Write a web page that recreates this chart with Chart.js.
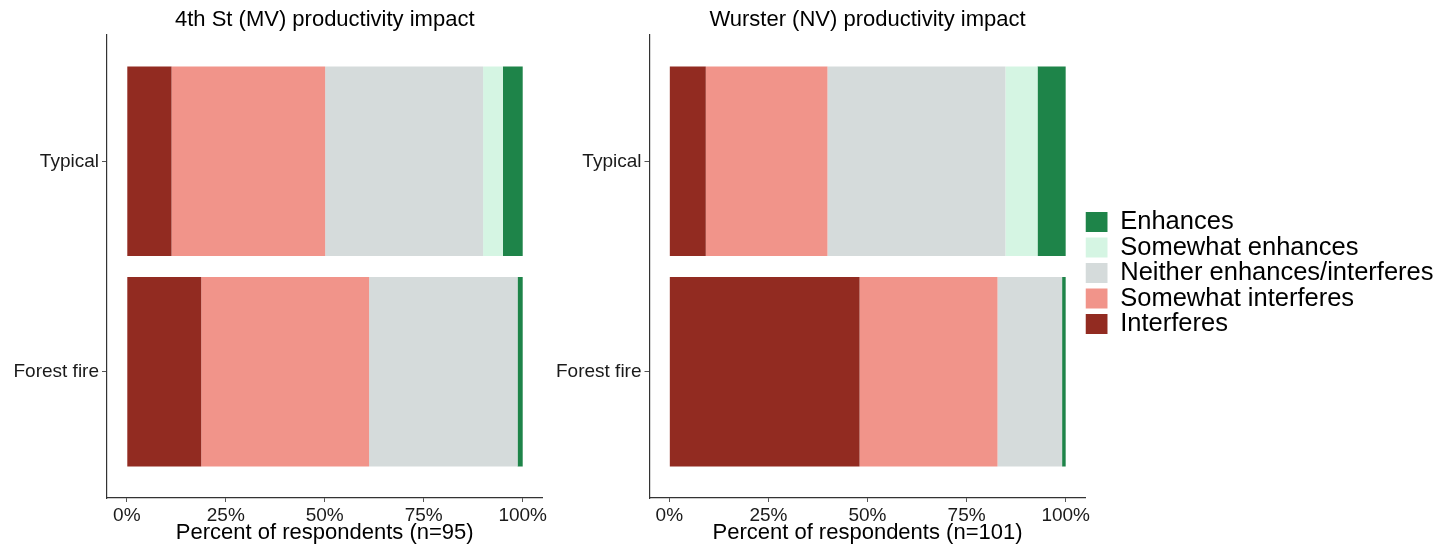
<!DOCTYPE html>
<html>
<head>
  <title>Productivity impact</title>
  <script src="https://cdn.jsdelivr.net/npm/chart.js"></script>
  <style>
    body {
      margin: 0;
      background: #ffffff;
      font-family: "Liberation Sans", Arial, sans-serif;
    }

    .panel {
      position: absolute;
      top: 0;
      height: 546px;
    }

    #left-panel {
      left: 0;
      width: 560px;
    }

    #right-panel {
      left: 540px;
      width: 909px;
    }
  </style>
</head>
<body>
  <div class="panel" id="left-panel"><canvas id="chart-mv"></canvas></div>
  <div class="panel" id="right-panel"><canvas id="chart-nv"></canvas></div>

  <script>
    // categories (top to bottom) and response levels (left to right)
    var categories = ['Typical', 'Forest fire'];
    var levels = ['Interferes', 'Somewhat interferes', 'Neither enhances/interferes', 'Somewhat enhances', 'Enhances'];
    var colors = ['#922B21', '#F1948A', '#D5DBDB', '#D5F5E3', '#1E8449'];
    var xTicks = [0, 25, 50, 75, 100];

    // 4th St (MV), percent of respondents, n=95
    var mvInterferes = [11.3, 18.8];
    var mvSomewhatInterferes = [38.8, 42.4];
    var mvNeither = [39.9, 37.5];
    var mvSomewhatEnhances = [5.0, 0];
    var mvEnhances = [5.0, 1.3];

    // Wurster (NV), percent of respondents, n=101
    var nvInterferes = [9.2, 48.0];
    var nvSomewhatInterferes = [30.7, 34.8];
    var nvNeither = [44.9, 16.3];
    var nvSomewhatEnhances = [8.1, 0];
    var nvEnhances = [7.1, 0.9];

    var fontFamily = '"Liberation Sans", Arial, sans-serif';
    Chart.defaults.font.family = fontFamily;

    function makeDatasets(series) {
      return series.map(function (values, i) {
        return {
          label: levels[i],
          backgroundColor: colors[i],
          borderWidth: 0,
          barPercentage: 1.0,
          categoryPercentage: 0.9,
          data: values.map(function (v, j) { return { x: v, y: j }; })
        };
      });
    }

    function makeChart(canvasId, title, axisTitle, series, showLegend, yWidth, padRight) {
      var ctx = document.getElementById(canvasId).getContext('2d');
      return new Chart(ctx, {
        type: 'bar',
        data: { datasets: makeDatasets(series) },
        options: {
          indexAxis: 'y',
          responsive: true,
          maintainAspectRatio: false,
          animation: false,
          layout: { padding: { left: 0, right: padRight, top: 0, bottom: 0 } },
          plugins: {
            tooltip: { enabled: false },
            title: {
              display: true,
              text: title,
              fullSize: false,
              color: '#000000',
              font: { size: 22, weight: 'normal' },
              padding: { top: 7, bottom: 1.6 }
            },
            legend: {
              display: showLegend,
              position: 'right',
              reverse: true,
              maxWidth: 420,
              labels: {
                boxWidth: 22,
                boxHeight: 20,
                padding: 0,
                color: '#000000',
                font: { size: 25.5 }
              }
            }
          },
          scales: {
            x: {
              type: 'linear',
              stacked: true,
              min: -5,
              max: 105,
              afterBuildTicks: function (scale) {
                scale.ticks = xTicks.map(function (v) { return { value: v }; });
              },
              afterFit: function (scale) { scale.height = 48; },
              ticks: {
                color: '#1a1a1a',
                font: { size: 19 },
                padding: 2,
                callback: function (v) { return v + '%'; }
              },
              grid: {
                offset: false,
                drawOnChartArea: false,
                drawTicks: true,
                tickLength: 4,
                tickColor: '#555555'
              },
              border: { display: true, color: '#333333', width: 1.2 },
              title: {
                display: true,
                text: axisTitle,
                color: '#000000',
                font: { size: 22 },
                padding: { top: 0, bottom: 0 }
              }
            },
            y: {
              type: 'linear',
              stacked: true,
              reverse: true,
              offset: false,
              min: -0.6,
              max: 1.6,
              afterBuildTicks: function (scale) {
                scale.ticks = categories.map(function (c, i) { return { value: i }; });
              },
              afterFit: function (scale) { scale.width = yWidth; },
              ticks: {
                color: '#1a1a1a',
                font: { size: 19 },
                padding: 3,
                callback: function (v) { return categories[v]; }
              },
              grid: {
                offset: false,
                drawOnChartArea: false,
                drawTicks: true,
                tickLength: 5,
                tickColor: '#555555'
              },
              border: { display: true, color: '#333333', width: 1.2 }
            }
          }
        }
      });
    }

    makeChart('chart-mv', '4th St (MV) productivity impact', 'Percent of respondents (n=95)',
      [mvInterferes, mvSomewhatInterferes, mvNeither, mvSomewhatEnhances, mvEnhances], false, 107, 17.5);

    makeChart('chart-nv', 'Wurster (NV) productivity impact', 'Percent of respondents (n=101)',
      [nvInterferes, nvSomewhatInterferes, nvNeither, nvSomewhatEnhances, nvEnhances], true, 109.5, 5.5);
  </script>
</body>
</html>
